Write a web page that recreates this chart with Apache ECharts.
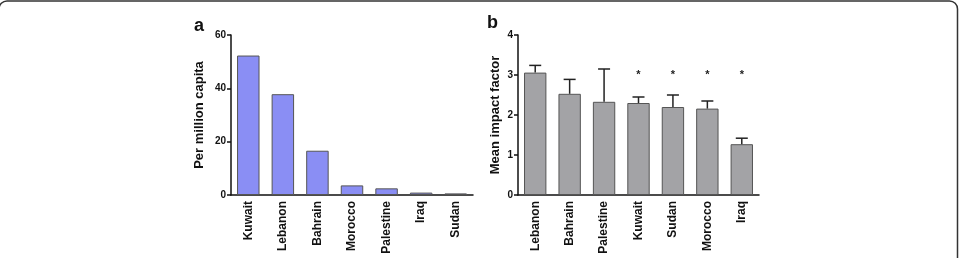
<!DOCTYPE html>
<html><head><meta charset="utf-8">
<script src="https://cdn.jsdelivr.net/npm/echarts@6/dist/echarts.min.js"></script>
<style>html,body{margin:0;padding:0;background:#fff;}#c{width:959px;height:258px;}</style>
</head><body><div id="c"></div>
<script>
// Panel a data
const catsA = ['Kuwait','Lebanon','Bahrain','Morocco','Palestine','Iraq','Sudan'];
const valsA = [52.3, 37.8, 16.6, 3.6, 2.5, 0.9, 0.6];
const ticksA = [0, 20, 40, 60];
// Panel b data
const catsB = ['Lebanon','Bahrain','Palestine','Kuwait','Sudan','Morocco','Iraq'];
const valsB = [3.06, 2.53, 2.33, 2.30, 2.20, 2.16, 1.27];
const errB  = [0.18, 0.36, 0.82, 0.15, 0.30, 0.19, 0.15];
const starB = ['', '', '', '*', '*', '*', '*'];
const starLevel = 3.08;
const ticksB = [0, 1, 2, 3, 4];

const FONT = '"Liberation Sans", Arial, sans-serif';
const chart = echarts.init(document.getElementById('c'), null, {renderer:'canvas'});

function xAxis(idx, cats){
  return {type:'category', gridIndex:idx, data:cats,
    axisLine:{lineStyle:{color:'#111', width:1.5}},
    axisTick:{alignWithLabel:true, length:4, lineStyle:{color:'#111', width:1.5}},
    axisLabel:{rotate:90, fontFamily:FONT, fontWeight:'bold', fontSize:12, color:'#111', margin:6}};
}
function yAxis(idx, max, interval, name, gap){
  return {type:'value', gridIndex:idx, min:0, max:max, interval:interval,
    name:name, nameLocation:'middle', nameGap:gap,
    nameTextStyle:{fontFamily:FONT, fontWeight:'bold', fontSize:13, color:'#111'},
    axisLine:{show:true, lineStyle:{color:'#111', width:1.5}},
    axisTick:{show:true, length:4, lineStyle:{color:'#111', width:1.5}},
    splitLine:{show:false},
    axisLabel:{fontFamily:FONT, fontWeight:'bold', fontSize:10, color:'#111', margin:5}};
}

chart.setOption({
  animation:false,
  grid:[
    {left:231, right:486, top:35, bottom:63},
    {left:518, right:200, top:35, bottom:63}
  ],
  xAxis:[xAxis(0, catsA), xAxis(1, catsB)],
  yAxis:[yAxis(0, ticksA[ticksA.length-1], ticksA[1]-ticksA[0], 'Per million capita', 25),
         yAxis(1, ticksB[ticksB.length-1], ticksB[1]-ticksB[0], 'Mean impact factor', 16)],
  graphic:[
    {type:'rect', shape:{x:-1, y:1, width:958.5, height:320, r:8}, style:{fill:'none', stroke:'#333', lineWidth:1.5}},
    {type:'text', left:194, top:17, style:{text:'a', font:'bold 18px '+FONT, fill:'#111'}},
    {type:'text', left:487, top:14, style:{text:'b', font:'bold 18px '+FONT, fill:'#111'}}
  ],
  series:[
    {type:'bar', xAxisIndex:0, yAxisIndex:0, data:valsA, barWidth:'65%',
     itemStyle:{color:'#8a8ef4', borderColor:'#555', borderWidth:1}},
    {type:'bar', xAxisIndex:1, yAxisIndex:1, data:valsB, barWidth:'65%',
     itemStyle:{color:'#a3a3a6', borderColor:'#555', borderWidth:1}, z:2},
    {type:'custom', xAxisIndex:1, yAxisIndex:1, z:3,
     data:valsB.map((v,i)=>[i, v, v+errB[i]]),
     renderItem:function(params, api){
       const p0 = api.coord([api.value(0), api.value(1)]);
       const p1 = api.coord([api.value(0), api.value(2)]);
       const hw = 6;
       return {type:'group', children:[
         {type:'line', shape:{x1:p0[0], y1:p0[1], x2:p1[0], y2:p1[1]}, style:{stroke:'#222', lineWidth:1.5}},
         {type:'line', shape:{x1:p1[0]-hw, y1:p1[1], x2:p1[0]+hw, y2:p1[1]}, style:{stroke:'#222', lineWidth:1.5}}
       ]};
     }},
    {type:'custom', xAxisIndex:1, yAxisIndex:1, z:3,
     data:starB.map((s,i)=>[i, starLevel, s]),
     renderItem:function(params, api){
       const p = api.coord([api.value(0), api.value(1)]);
       return {type:'text', x:p[0], y:p[1]+3, style:{text:starB[params.dataIndex], font:'bold 11px '+FONT, fill:'#222', align:'center', verticalAlign:'middle'}};
     }}
  ]
});
</script></body></html>
